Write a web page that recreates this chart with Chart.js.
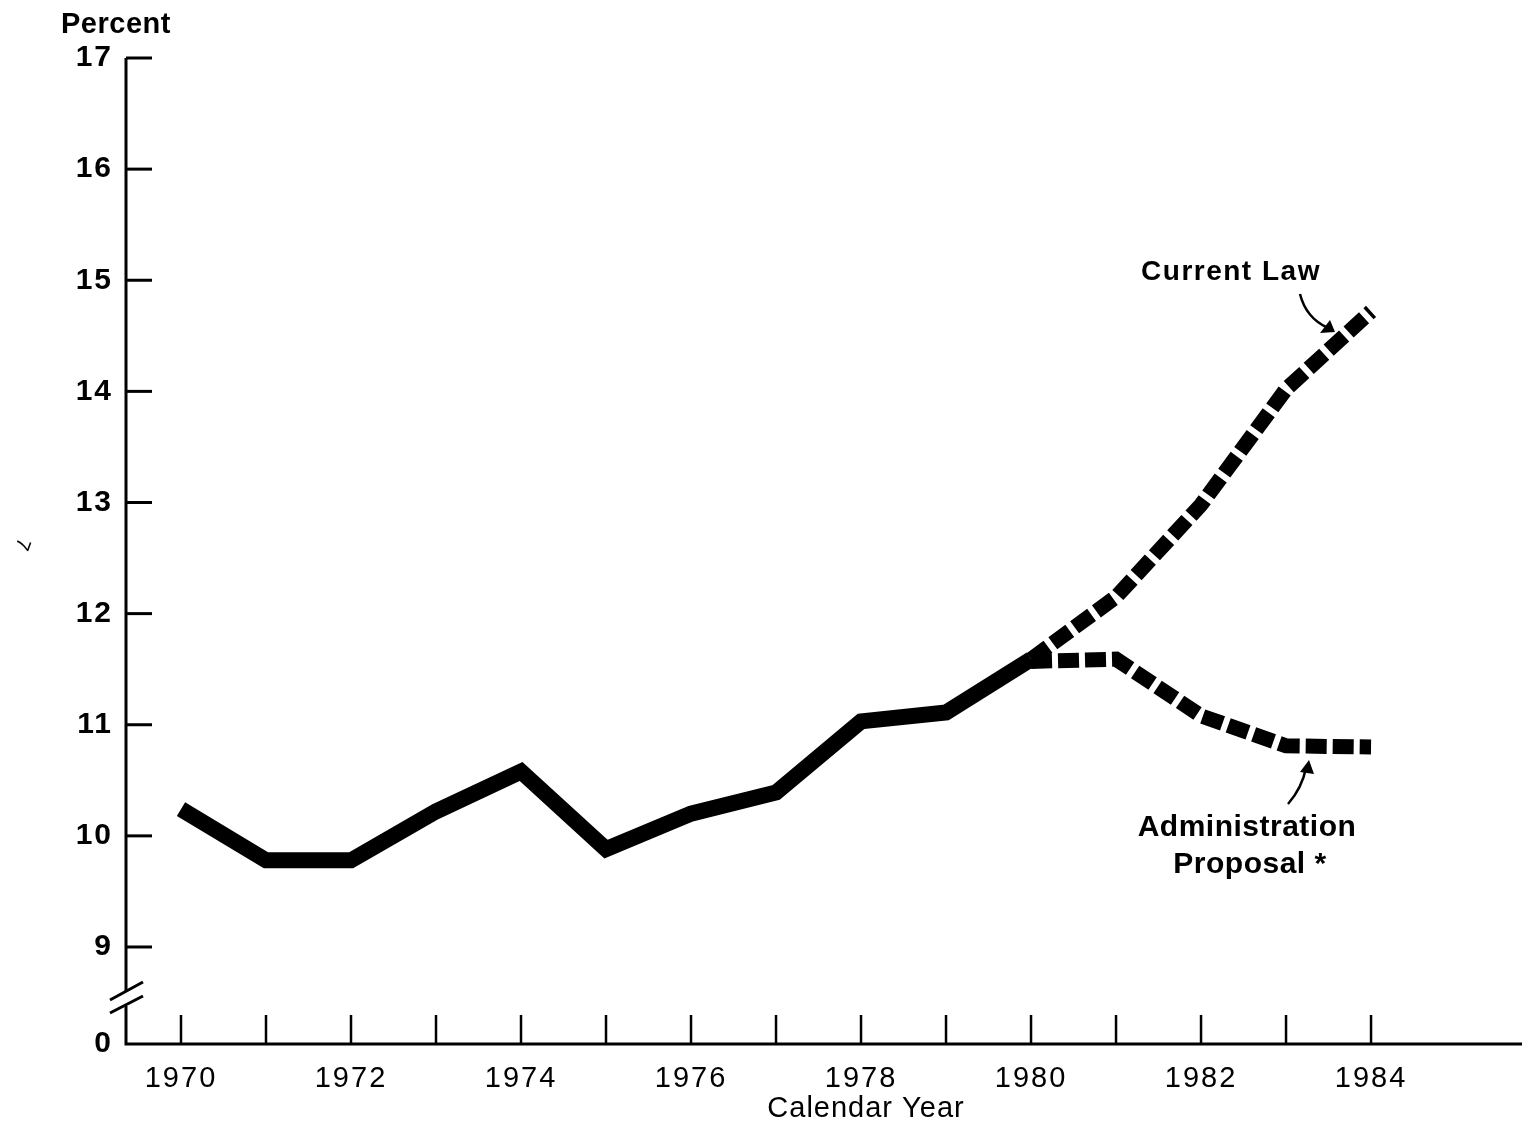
<!DOCTYPE html>
<html lang="en">
<head>
    <meta charset="UTF-8">
    <title>Percent by Calendar Year</title>
    <script src="https://cdn.jsdelivr.net/npm/chart.js"></script>
    <style>
        body { margin: 0; background: #fff; }
        #grafico { display: block; }
    </style>
</head>
<body>
    <div style="width:1524px; height:1123px;">
        <canvas id="grafico" width="1524" height="1123"></canvas>
    </div>
<script>
    // dados
    const anosHistorico = [1970, 1971, 1972, 1973, 1974, 1975, 1976, 1977, 1978, 1979, 1980];
    const valoresHistorico = [10.24, 9.78, 9.78, 10.22, 10.58, 9.88, 10.20, 10.39, 11.03, 11.11, 11.59];

    const anosProjecao = [1980, 1981, 1982, 1983, 1984];
    const valoresLeiAtual = [11.59, 12.15, 12.98, 14.02, 14.72];
    const valoresProposta = [11.57, 11.59, 11.08, 10.81, 10.80];

    const ticksY = [9, 10, 11, 12, 13, 14, 15, 16, 17];
    const ticksX = [1970, 1971, 1972, 1973, 1974, 1975, 1976, 1977, 1978, 1979, 1980, 1981, 1982, 1983, 1984];

    // o zero fica abaixo da quebra do eixo
    const posicaoZero = 8.127;

    function pontos(anos, valores) {
        return anos.map((a, i) => ({ x: a, y: valores[i] }));
    }

    const fonte = '"Liberation Sans", Arial, sans-serif';

    // desenha eixos, marcas, quebra e anotacoes
    const eixosPlugin = {
        id: 'eixos',
        beforeDraw(chart) {
            // espacamento das letras como no original
            chart.ctx.letterSpacing = '2px';
        },
        afterDraw(chart) {
            const ctx = chart.ctx;
            const x = chart.scales.x;
            const y = chart.scales.y;
            const area = chart.chartArea;
            ctx.save();
            ctx.strokeStyle = '#000';
            ctx.fillStyle = '#000';
            ctx.lineWidth = 3;
            ctx.lineCap = 'butt';

            // eixo y com quebra
            ctx.beginPath();
            ctx.moveTo(area.left, area.top);
            ctx.lineTo(area.left, 992);
            ctx.moveTo(area.left, 1006);
            ctx.lineTo(area.left, area.bottom);
            // eixo x
            ctx.lineTo(area.right, area.bottom);
            ctx.stroke();

            // marcas y
            ticksY.forEach(v => {
                const py = y.getPixelForValue(v);
                ctx.beginPath();
                ctx.moveTo(area.left, py);
                ctx.lineTo(area.left + 26, py);
                ctx.stroke();
            });
            // marcas x
            ctx.lineWidth = 2.5;
            ticksX.forEach(v => {
                const px = x.getPixelForValue(v);
                ctx.beginPath();
                ctx.moveTo(px, area.bottom);
                ctx.lineTo(px, area.bottom - 29);
                ctx.stroke();
            });

            // quebra
            ctx.lineWidth = 3;
            ctx.beginPath();
            ctx.moveTo(110, 1000);
            ctx.lineTo(143, 982);
            ctx.moveTo(110, 1013);
            ctx.lineTo(143, 996);
            ctx.stroke();

            // titulos
            ctx.letterSpacing = '0.5px';
            ctx.font = 'bold 29px ' + fonte;
            ctx.textAlign = 'left';
            ctx.textBaseline = 'alphabetic';
            ctx.fillText('Percent', 61, 33);

            ctx.letterSpacing = '1px';
            ctx.font = '29px ' + fonte;
            ctx.textAlign = 'center';
            ctx.fillText('Calendar Year', 866, 1117);

            // anotacoes
            ctx.letterSpacing = '1.5px';
            ctx.font = 'bold 28px ' + fonte;
            ctx.fillText('Current Law', 1231, 280);
            ctx.letterSpacing = '0.5px';
            ctx.font = 'bold 30px ' + fonte;
            ctx.fillText('Administration', 1247, 836);
            ctx.fillText('Proposal *', 1250, 873);

            ctx.lineWidth = 2.5;
            ctx.beginPath();
            ctx.moveTo(1300, 294);
            ctx.quadraticCurveTo(1306, 318, 1328, 328);
            ctx.stroke();
            ctx.beginPath();
            ctx.moveTo(1335, 332);
            ctx.lineTo(1320, 333);
            ctx.lineTo(1330, 320);
            ctx.closePath();
            ctx.fill();

            ctx.beginPath();
            ctx.moveTo(1288, 804);
            ctx.quadraticCurveTo(1302, 788, 1306, 768);
            ctx.stroke();
            ctx.beginPath();
            ctx.moveTo(1309, 760);
            ctx.lineTo(1314, 774);
            ctx.lineTo(1300, 772);
            ctx.closePath();
            ctx.fill();

            // marca solta na margem
            ctx.save();
            ctx.letterSpacing = '0px';
            ctx.translate(22, 544);
            ctx.rotate(Math.PI / 2 + 0.35);
            ctx.font = '20px ' + fonte;
            ctx.textAlign = 'center';
            ctx.textBaseline = 'middle';
            ctx.fillText('7', 0, 0);
            ctx.restore();

            ctx.restore();
        }
    };

    const dados = {
        datasets: [
            {
                label: 'Historico',
                data: pontos(anosHistorico, valoresHistorico),
                borderColor: '#000',
                borderWidth: 16,
                borderJoinStyle: 'miter',
                borderCapStyle: 'butt',
                pointRadius: 0,
                tension: 0
            },
            {
                label: 'Current Law',
                data: pontos(anosProjecao, valoresLeiAtual),
                borderColor: '#000',
                borderWidth: 15,
                borderDash: [21, 6],
                borderCapStyle: 'butt',
                borderJoinStyle: 'miter',
                pointRadius: 0,
                tension: 0
            },
            {
                label: 'Administration Proposal *',
                data: pontos(anosProjecao, valoresProposta),
                borderColor: '#000',
                borderWidth: 15,
                borderDash: [21, 6],
                borderCapStyle: 'butt',
                borderJoinStyle: 'miter',
                pointRadius: 0,
                tension: 0
            }
        ]
    };

    const config = {
        type: 'line',
        data: dados,
        options: {
            responsive: false,
            animation: false,
            layout: { padding: { top: 58, right: 2, left: 0, bottom: 0 } },
            plugins: {
                legend: { display: false },
                tooltip: { enabled: false }
            },
            scales: {
                x: {
                    type: 'linear',
                    min: 1969.353,
                    max: 1985.776,
                    grid: { display: false },
                    border: { display: false },
                    afterBuildTicks: s => { s.ticks = ticksX.map(v => ({ value: v })); },
                    afterFit: s => { s.height = 79; },
                    ticks: {
                        autoSkip: false,
                        maxRotation: 0,
                        padding: 10,
                        color: '#000',
                        font: { family: fonte, size: 29 },
                        callback: v => (v % 2 === 0 ? String(v) : '')
                    }
                },
                y: {
                    type: 'linear',
                    min: posicaoZero,
                    max: 17,
                    grid: { display: false },
                    border: { display: false },
                    afterBuildTicks: s => {
                        s.ticks = [{ value: posicaoZero }].concat(ticksY.map(v => ({ value: v })));
                    },
                    afterFit: s => { s.width = 126; },
                    ticks: {
                        autoSkip: false,
                        padding: 5,
                        color: '#000',
                        font: { family: fonte, size: 30, weight: 'bold' },
                        callback: v => (v === posicaoZero ? '0' : String(v))
                    }
                }
            }
        },
        plugins: [eixosPlugin]
    };

    let grafico = new Chart(document.getElementById('grafico'), config);
</script>
</body>
</html>
